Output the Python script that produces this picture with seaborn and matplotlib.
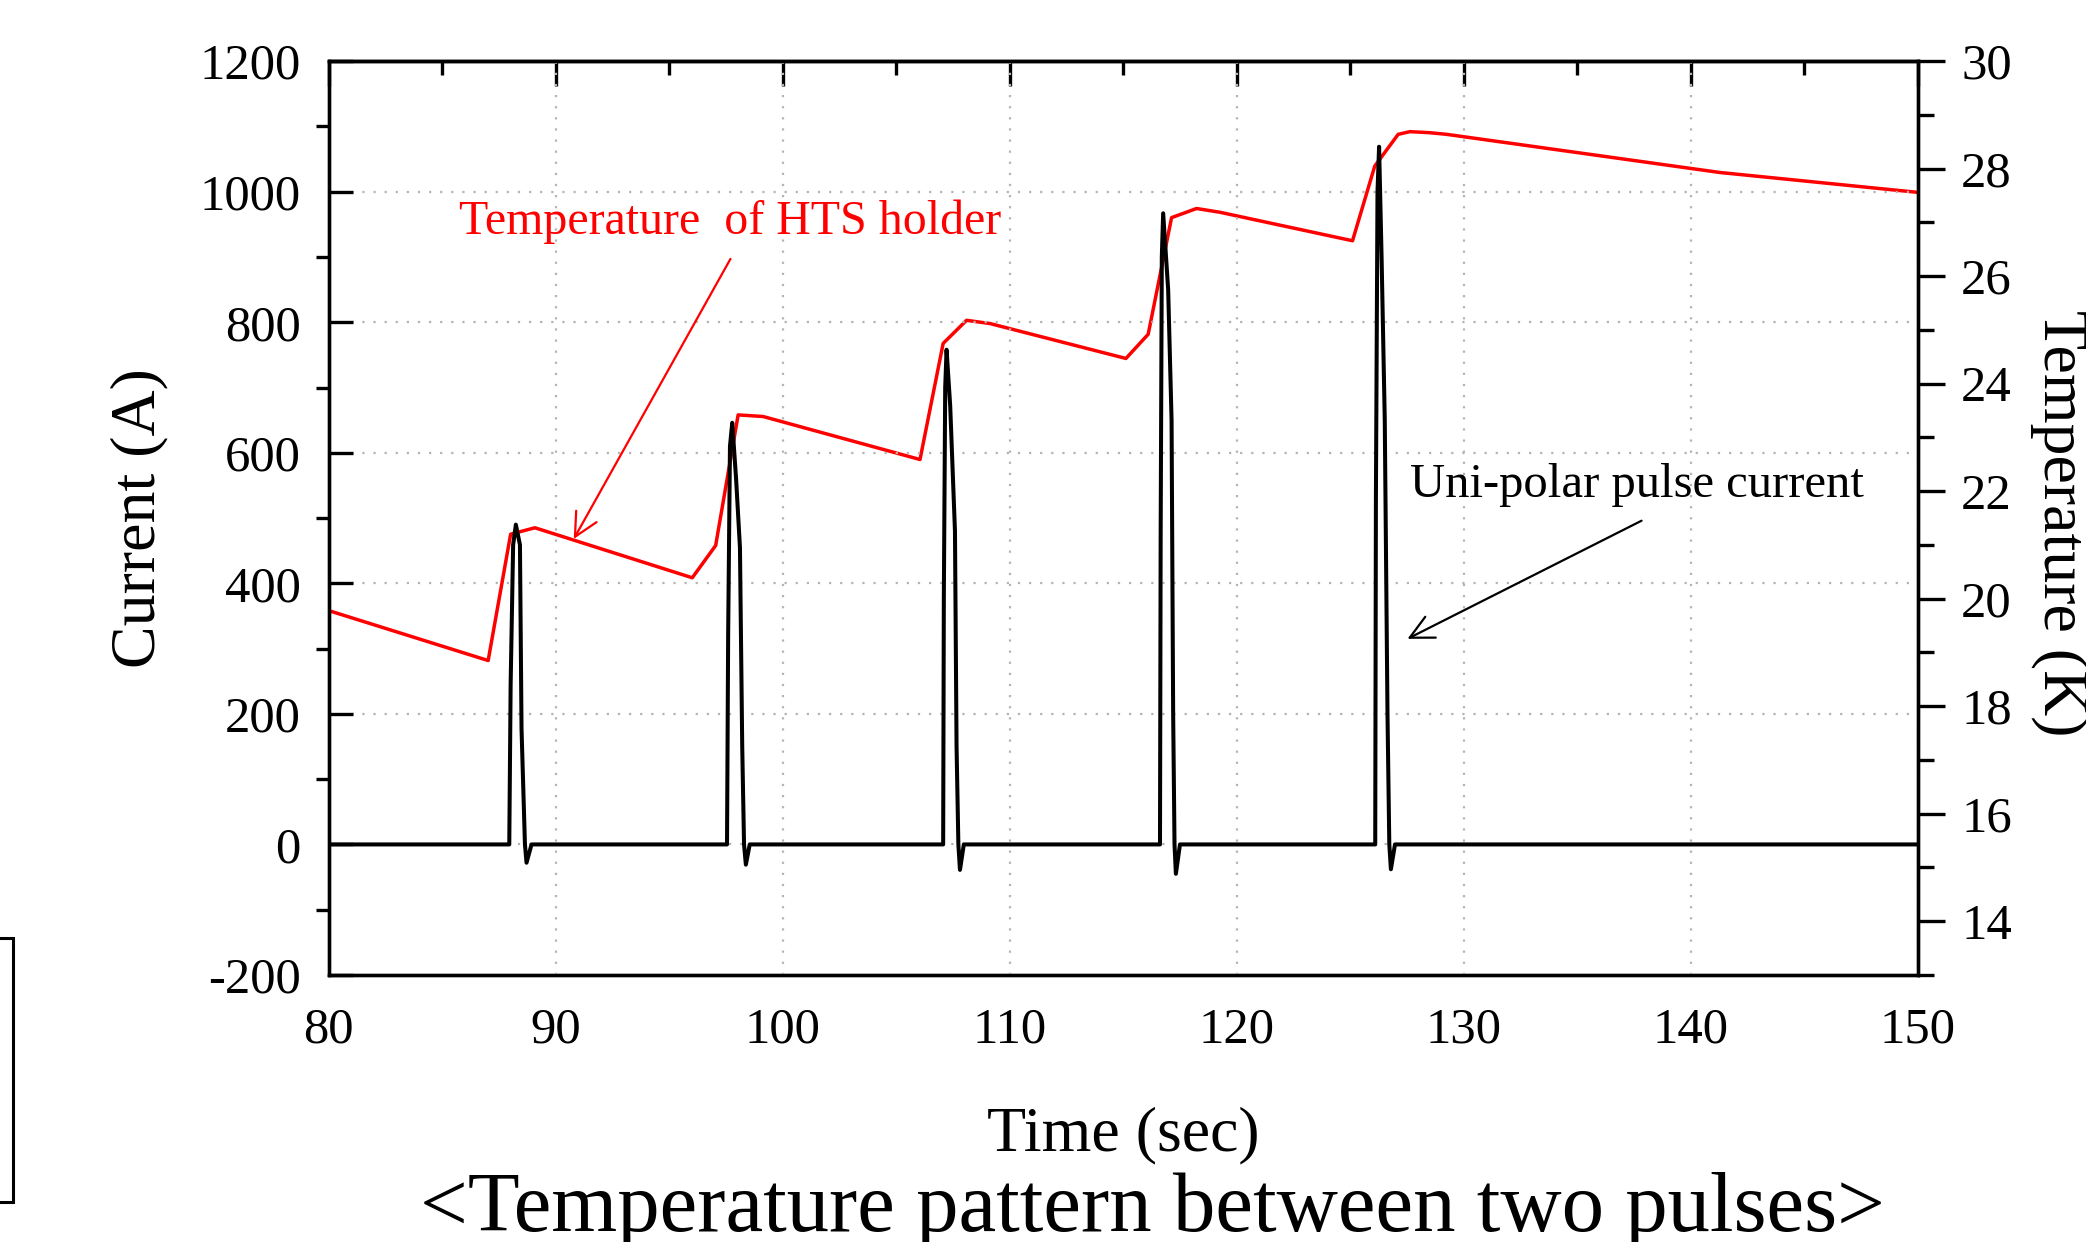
import matplotlib
matplotlib.use('Agg')
from matplotlib import pyplot as plt
from matplotlib.ticker import MultipleLocator
from matplotlib.patches import Rectangle
import seaborn as sns
import pandas as pd

# current trace (A), five uni-polar pulses
time_current = [80.0,
                87.96, 88.02, 88.13, 88.25, 88.43, 88.50, 88.65, 88.72, 88.94,
                97.55, 97.60, 97.68, 97.78, 97.95, 98.12, 98.22, 98.30, 98.38, 98.55,
                107.07, 107.10, 107.16, 107.22, 107.38, 107.59, 107.66, 107.74, 107.81, 107.98,
                116.62, 116.65, 116.70, 116.76, 116.98, 117.13, 117.20, 117.26, 117.32, 117.50,
                126.10, 126.13, 126.20, 126.27, 126.38, 126.52, 126.64, 126.72, 126.79, 126.97,
                150.0]
current = [0,
           0, 245, 459, 490, 459, 177, 0, -28, 0,
           0, 320, 610, 646, 560, 455, 150, 0, -31, 0,
           0, 380, 700, 758, 672, 480, 150, 0, -39, 0,
           0, 480, 900, 967, 850, 650, 200, 0, -45, 0,
           0, 530, 1000, 1069, 900, 650, 200, 0, -38, 0,
           0]

# temperature of HTS holder (K)
time_temp = [80.0, 87.03, 88.02, 88.28, 89.09, 96.02, 97.05, 98.04, 99.14, 106.05,
             107.07, 108.10, 109.13, 115.12, 116.10, 117.13, 118.23, 119.26, 125.10,
             126.08, 127.11, 127.63, 128.51, 129.24, 141.28, 150.0]
temperature = [19.78, 18.85, 21.20, 21.23, 21.32, 20.39, 20.99, 23.42, 23.39, 22.59,
               24.75, 25.18, 25.12, 24.47, 24.92, 27.09, 27.26, 27.19, 26.66,
               28.05, 28.64, 28.69, 28.67, 28.64, 27.93, 27.56]

x_ticks = [80, 90, 100, 110, 120, 130, 140, 150]
y_ticks = [-200, 0, 200, 400, 600, 800, 1000, 1200]
t_ticks = [14, 16, 18, 20, 22, 24, 26, 28, 30]

sns.set_theme(style='white')
plt.rcParams['font.family'] = ['Liberation Serif', 'DejaVu Serif']
plt.rcParams['axes.unicode_minus'] = False
plt.rcParams['text.color'] = 'black'
plt.rcParams['axes.labelcolor'] = 'black'
plt.rcParams['xtick.color'] = 'black'
plt.rcParams['ytick.color'] = 'black'

fig = plt.figure(figsize=(20.86, 12.42), dpi=100)
ax = fig.add_axes([0.1575, 0.2150, 0.7619, 0.7357])
ax2 = ax.twinx()
ax.set_zorder(ax2.get_zorder() + 1)
ax.patch.set_visible(False)

df_i = pd.DataFrame({'time': time_current, 'current': current})
df_t = pd.DataFrame({'time': time_temp, 'temperature': temperature})

sns.lineplot(data=df_t, x='time', y='temperature', ax=ax2, color='#ff0000',
             lw=2.5, sort=False, estimator=None)
sns.lineplot(data=df_i, x='time', y='current', ax=ax, color='black',
             lw=2.9, sort=False, estimator=None)

ax.set_xlim(80, 150)
ax.set_ylim(-200, 1200)
ax2.set_ylim(13, 30)
ax.set_xticks(x_ticks)
ax.set_yticks(y_ticks)
ax2.set_yticks(t_ticks)
ax.xaxis.set_minor_locator(MultipleLocator(5))
ax.yaxis.set_minor_locator(MultipleLocator(100))
ax2.yaxis.set_minor_locator(MultipleLocator(1))

ax.grid(True, which='major', color='#b4b4b4', linestyle=(0, (1, 4)), linewidth=1.6)
ax2.grid(False)

for a in (ax, ax2):
    for s in a.spines.values():
        s.set_linewidth(2.4)
        s.set_color('black')

ax.tick_params(which='major', direction='in', length=17.5, width=2.4,
               labelsize=36.5, top=False, right=False)
ax.tick_params(which='minor', direction='out', length=9.6, width=2.4,
               top=False, right=False)
ax.tick_params(axis='x', which='major', pad=23)
ax.tick_params(axis='y', which='major', pad=20)
ax2.tick_params(axis='y', which='major', direction='out', length=19.7, width=2.4,
                labelsize=36.5, pad=11.5)
ax2.tick_params(axis='y', which='minor', direction='out', length=11.3, width=2.4)

secax = ax.secondary_xaxis('top')
secax.set_xticks(x_ticks)
secax.xaxis.set_minor_locator(MultipleLocator(5))
secax.tick_params(which='major', direction='in', length=18, width=2.4, labeltop=False)
secax.tick_params(which='minor', direction='in', length=10.3, width=2.4)
secax.spines['top'].set_linewidth(2.4)
secax.spines['top'].set_color('black')

ax.set_xlabel('Time (sec)', fontsize=46, va='baseline')
ax.xaxis.set_label_coords(0.5, -0.1923)
ax.set_ylabel('Current (A)', fontsize=46, va='center')
ax.yaxis.set_label_coords(-0.1192, 0.5)
ax2.set_ylabel('Temperature (K)', fontsize=46, rotation=270, va='center')
ax2.yaxis.set_label_coords(1.089, 0.494)

ax.text(85.74, 936, 'Temperature  of HTS holder', color='#ff0000', fontsize=34.5,
        ha='left', va='baseline')
ax.annotate('', xy=(90.8, 468), xytext=(97.7, 897),
            arrowprops=dict(arrowstyle='->', color='#ff0000', lw=1.6,
                            mutation_scale=42, shrinkA=0, shrinkB=0))
ax.text(127.63, 532, 'Uni-polar pulse current', color='black', fontsize=35,
        ha='left', va='baseline')
ax.annotate('', xy=(127.52, 315), xytext=(137.83, 496),
            arrowprops=dict(arrowstyle='->', color='black', lw=1.6,
                            mutation_scale=42, shrinkA=0, shrinkB=0))

fig.text(0.5523, 0.009, '<Temperature pattern between two pulses>', fontsize=61,
         ha='center', va='baseline')
fig.add_artist(Rectangle((-0.01, 0.0322), 0.0161, 0.2126, transform=fig.transFigure,
                         fill=False, lw=2.2, edgecolor='black'))

fig.savefig('out.png', dpi=100)
